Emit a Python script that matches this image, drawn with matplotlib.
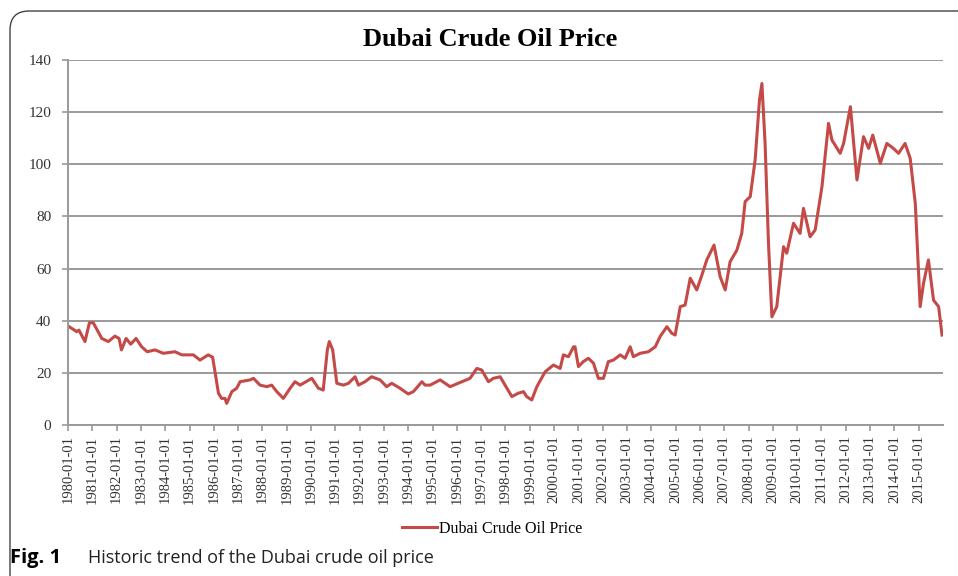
import matplotlib.pyplot as plt
from matplotlib.patches import FancyBboxPatch

# decimal years and Dubai crude price (USD/bbl)
years = [1980.0, 1980.36, 1980.45, 1980.7, 1980.88, 1981.04, 1981.39, 1981.66, 1981.93, 1982.1,
         1982.2, 1982.39, 1982.58, 1982.8, 1983.03, 1983.26, 1983.58, 1983.92, 1984.4, 1984.68,
         1985.16, 1985.43, 1985.77, 1985.95, 1986.19, 1986.32, 1986.46, 1986.53, 1986.74, 1986.94,
         1987.08, 1987.49, 1987.63, 1987.9, 1988.18, 1988.38, 1988.59, 1988.86, 1989.14, 1989.34,
         1989.55, 1990.03, 1990.3, 1990.5, 1990.67, 1990.75, 1990.89, 1991.06, 1991.33, 1991.54,
         1991.81, 1991.95, 1992.22, 1992.49, 1992.84, 1993.11, 1993.32, 1993.66, 1994.0, 1994.21,
         1994.56, 1994.69, 1994.9, 1995.31, 1995.72, 1996.2, 1996.54, 1996.82, 1997.02, 1997.3,
         1997.5, 1997.78, 1997.98, 1998.26, 1998.53, 1998.74, 1998.87, 1999.08, 1999.29, 1999.63,
         1999.97, 2000.25, 2000.38, 2000.59, 2000.8, 2000.86, 2001.0, 2001.2, 2001.41, 2001.62,
         2001.82, 2002.03, 2002.23, 2002.44, 2002.72, 2002.92, 2003.13, 2003.26, 2003.54, 2003.88,
         2004.16, 2004.36, 2004.64, 2004.84, 2004.98, 2005.19, 2005.39, 2005.6, 2005.87, 2006.08,
         2006.28, 2006.58, 2006.83, 2007.04, 2007.24, 2007.52, 2007.72, 2007.86, 2008.07, 2008.27,
         2008.45, 2008.55, 2008.68, 2008.82, 2008.96, 2009.16, 2009.44, 2009.57, 2009.85, 2010.12,
         2010.26, 2010.53, 2010.74, 2011.02, 2011.29, 2011.43, 2011.77, 2011.91, 2012.19, 2012.46,
         2012.73, 2012.94, 2013.11, 2013.42, 2013.69, 2013.96, 2014.17, 2014.44, 2014.65, 2014.86,
         2015.06, 2015.2, 2015.4, 2015.61, 2015.82, 2015.96]
price = [38.0, 35.8, 36.4, 32.0, 39.2, 39.2, 33.2, 32.0, 34.1, 33.2,
         28.8, 33.2, 31.0, 33.2, 30.0, 28.1, 28.8, 27.5, 28.1, 26.9,
         26.9, 24.9, 26.9, 26.0, 12.2, 10.2, 10.2, 8.3, 12.8, 14.1,
         16.6, 17.3, 17.9, 15.3, 14.7, 15.3, 12.8, 10.2, 14.1, 16.6,
         15.3, 17.9, 14.1, 13.4, 28.8, 32.0, 28.8, 16.0, 15.3, 16.0,
         18.5, 15.3, 16.6, 18.5, 17.3, 14.7, 16.0, 14.1, 11.9, 12.8,
         16.6, 15.3, 15.3, 17.3, 14.7, 16.6, 17.9, 21.7, 21.1, 16.6,
         17.9, 18.5, 15.3, 10.9, 12.2, 12.8, 10.9, 9.6, 14.7, 20.4,
         23.0, 21.7, 26.9, 26.2, 30.0, 30.0, 22.4, 24.3, 25.6, 23.7,
         17.9, 17.9, 24.3, 24.9, 26.9, 25.6, 30.0, 26.2, 27.5, 28.1,
         30.0, 33.9, 37.7, 35.2, 34.5, 45.4, 46.0, 56.3, 51.8, 57.5,
         63.3, 69.0, 56.9, 51.8, 62.6, 67.1, 73.5, 85.7, 87.6, 101.6,
         124.7, 131.0, 108.0, 69.7, 41.5, 45.4, 68.4, 65.9, 77.4, 73.5,
         83.1, 72.2, 74.8, 91.4, 115.7, 109.3, 104.2, 108.0, 122.1, 94.0,
         110.6, 106.1, 111.2, 100.4, 108.0, 106.1, 104.2, 108.0, 102.3, 85.0,
         45.4, 54.4, 63.3, 47.9, 45.4, 34.5]

tick_years = list(range(1980, 2016))
tick_labels = [f"{y}-01-01" for y in tick_years]

serif = ["Liberation Serif", "DejaVu Serif"]
grey = "#9a9a9a"
red = "#C44A48"

fig = plt.figure(figsize=(9.58, 5.76), dpi=100)

# rounded frame around the figure panel (open to right/bottom like the crop)
frame = FancyBboxPatch((10 / 958, -0.1), 1.2, 1.1 - 11 / 576,
                       boxstyle="round,pad=0,rounding_size=0.02",
                       transform=fig.transFigure, fill=False,
                       edgecolor="#444444", linewidth=1.0, mutation_aspect=958 / 576)
fig.patches.append(frame)

ax = fig.add_axes([68 / 958, 1 - 425 / 576, (943 - 68) / 958, (425 - 60) / 576])
ax.plot(years, price, color=red, linewidth=2.2, label="Dubai Crude Oil Price")

ax.set_xlim(1980, 2016)
ax.set_ylim(0, 140)
ax.set_yticks(range(0, 141, 20))
ax.set_xticks(tick_years)
ax.set_xticklabels(tick_labels, rotation=90, fontsize=10.5, family=serif, color="#333333")
for lab in ax.get_yticklabels():
    lab.set_fontsize(11)
    lab.set_family(serif)
    lab.set_color("#333333")

ax.grid(axis="y", color=grey, linewidth=1.4)
ax.set_axisbelow(True)
for s in ["top", "right"]:
    ax.spines[s].set_visible(False)
for s in ["left", "bottom"]:
    ax.spines[s].set_color(grey)
    ax.spines[s].set_linewidth(1.4)
ax.tick_params(axis="both", color=grey, width=1.2, length=4)
ax.tick_params(axis="y", pad=8)

fig.text(490 / 958, 1 - 40 / 576, "Dubai Crude Oil Price", ha="center", va="center",
         fontsize=19, fontweight="bold", family=serif)

fig.legend(loc="center", bbox_to_anchor=(492 / 958, 1 - 529 / 576), frameon=False,
           prop={"family": serif, "size": 11.5}, handlelength=2.2, handletextpad=0.15)

fig.text(10 / 958, 1 - 558 / 576, "Fig. 1", ha="left", va="center",
         fontsize=14.5, fontweight="bold", family=["Open Sans", "DejaVu Sans"])
fig.text(88 / 958, 1 - 558 / 576, "Historic trend of the Dubai crude oil price", ha="left",
         va="center", fontsize=13, family=["Open Sans", "DejaVu Sans"], color="#222222")

fig.savefig("out.png", dpi=100)
